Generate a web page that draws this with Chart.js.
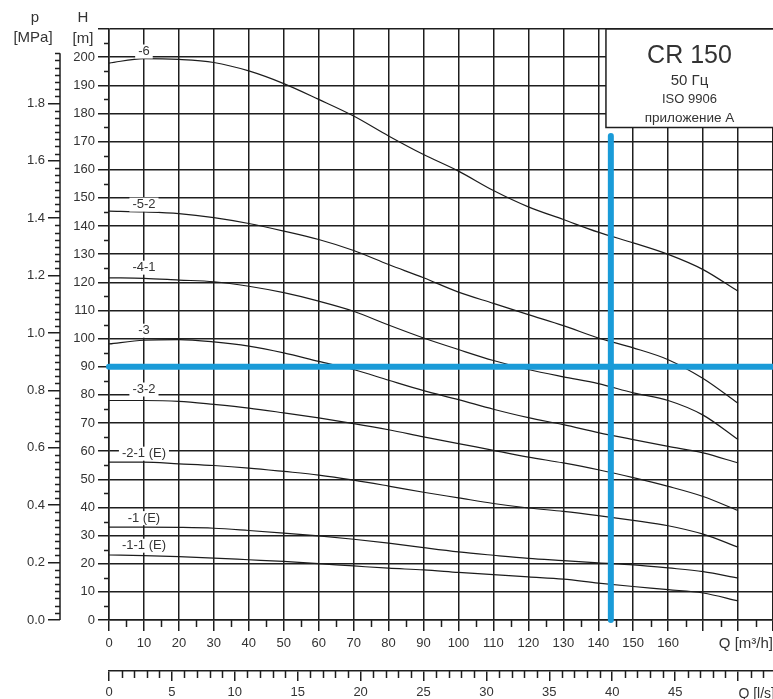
<!DOCTYPE html>
<html><head><meta charset="utf-8">
<script src="https://cdn.jsdelivr.net/npm/chart.js@4.4.1/dist/chart.umd.min.js"></script>
<style>html,body{margin:0;padding:0;background:#fff;overflow:hidden}</style>
</head><body>
<canvas id="c" width="773" height="699"></canvas>
<script>
// ---- data ----
const flowQ   = [0,10,20,30,40,50,60,70,80,90,100,110,120,130,140,150,160,170,180];
const head6   = [197.9,199.5,199.2,198.1,195.1,190.6,185.0,179.1,172.0,165.4,159.5,152.6,146.8,142.3,137.8,134.0,129.9,124.5,116.8];
const head52  = [145.3,145.0,144.4,143.0,140.9,138.2,135.2,131.3,126.3,121.6,116.5,112.5,108.5,104.6,100.2,96.7,92.5,85.8,77.0];
const head41  = [121.6,121.4,120.8,120.2,118.6,116.3,113.3,109.7,104.8,100.2,96.1,92.2,89.0,86.4,84.0,80.7,78.0,72.8,64.1];
const head3   = [98.1,99.4,99.6,98.8,97.3,94.9,91.9,89.0,85.2,81.5,78.3,74.9,71.9,69.4,66.6,64.1,61.7,59.4,55.8];
const head32  = [78.0,78.0,77.7,76.6,75.3,73.6,71.8,69.8,67.6,65.1,62.7,60.3,57.9,55.8,53.4,50.6,47.5,43.9,38.9];
const head21  = [56.1,56.1,55.5,54.9,54.0,52.8,51.5,49.7,47.6,45.4,43.4,41.4,39.8,38.6,37.1,35.4,33.5,30.5,25.9];
const head1   = [33.0,33.0,32.9,32.6,31.8,30.9,29.9,28.7,27.3,25.7,24.2,23.0,21.9,21.1,20.3,19.6,18.5,17.2,14.9];
const head11  = [23.1,22.9,22.5,22.0,21.4,20.8,20.0,19.2,18.4,17.8,16.9,16.1,15.3,14.5,13.1,11.9,10.8,9.6,6.8];
const curveNames = ['-6','-5-2','-4-1','-3','-3-2','-2-1 (E)','-1 (E)','-1-1 (E)'];
const curveHeads = [head6,head52,head41,head3,head32,head21,head1,head11];
const labelQ = 10;
const labelH = [202.0,147.6,125.2,102.8,81.9,59.1,36.2,26.4];
const dutyHead = 90;        // m
const dutyFlow = 143.6;     // m3/h
const dutyTop  = 172;       // m (top of the vertical marker)
const qMax = 190, hMax = 210;
const mPerMPa = 101.97;
const m3hPerLs = 3.6;
const qLabelMax = 160, lsLabelMax = 45, pLabelMax = 1.8, pAxisTop = 1.975;
const titleLines = ['CR 150','50 Гц','ISO 9906','приложение А'];
const boxQ = 142.2, boxH = 175;

const FONT = 'Liberation Sans, Arial, sans-serif';
const INK = '#1e1e1e';
const TXT = '#333';
const BLUE = 'rgb(26,155,216)';

const datasets = [
  {data:[{x:0,y:dutyHead},{x:qMax,y:dutyHead}], borderColor:BLUE, borderWidth:6, borderCapStyle:'round', pointRadius:0, clip:false, order:0},
  {data:[{x:dutyFlow,y:0},{x:dutyFlow,y:dutyTop}], borderColor:BLUE, borderWidth:6, borderCapStyle:'round', pointRadius:0, clip:false, order:0}
];
curveHeads.forEach((arr,i)=>{
  datasets.push({label:curveNames[i], data:flowQ.map((q,j)=>({x:q,y:arr[j]})),
    borderColor:'#1c1c1c', borderWidth:1.2, pointRadius:0, cubicInterpolationMode:'monotone', order:1});
});

const deco = {
  id:'deco',
  beforeDatasetsDraw(chart){
    const {ctx, scales:{x,y}, chartArea} = chart;
    // title box
    const l = x.getPixelForValue(boxQ), b = y.getPixelForValue(boxH), t = y.getPixelForValue(hMax);
    ctx.save();
    ctx.fillStyle = '#fff';
    ctx.fillRect(l, t, chart.width + 10 - l, b - t);
    ctx.strokeStyle = INK; ctx.lineWidth = 1.5;
    ctx.strokeRect(l, t, chart.width + 10 - l, b - t);
    const cx = (l + chartArea.right) / 2;
    ctx.fillStyle = TXT; ctx.textAlign = 'center'; ctx.textBaseline = 'middle';
    const sizes = [25, 15, 13, 13.5];
    const offs = [27, 51.5, 70, 89];
    titleLines.forEach((s,i)=>{ ctx.font = sizes[i] + 'px ' + FONT; ctx.fillText(s, cx, t + offs[i]); });
    ctx.restore();
  },
  afterDatasetsDraw(chart){
    const {ctx, scales:{x,y,p,xl}, chartArea} = chart;
    ctx.save();
    // curve labels
    ctx.font = '13px ' + FONT; ctx.textAlign = 'center'; ctx.textBaseline = 'middle';
    curveNames.forEach((n,i)=>{
      const px = x.getPixelForValue(labelQ), py = y.getPixelForValue(labelH[i]);
      const w = ctx.measureText(n).width;
      ctx.fillStyle = '#fff'; ctx.fillRect(px - w/2 - 3, py - 7, w + 6, 14);
      ctx.fillStyle = TXT; ctx.fillText(n, px, py);
    });
    // minor ticks
    ctx.strokeStyle = INK; ctx.lineWidth = 1.5;
    ctx.beginPath();
    for (let h = 5; h < hMax; h += 10) { const py = Math.round(y.getPixelForValue(h)) + 0.5; ctx.moveTo(chartArea.left - 5, py); ctx.lineTo(chartArea.left, py); }
    for (let q = 5; q < qMax; q += 10) { const px = Math.round(x.getPixelForValue(q)) + 0.5; ctx.moveTo(px, chartArea.bottom); ctx.lineTo(px, chartArea.bottom + 7); }
    for (let k = 1; k <= 52; k++) { if (k % 5 === 0) continue; const px = Math.round(xl.getPixelForValue(k)) + 0.5; ctx.moveTo(px, xl.top); ctx.lineTo(px, xl.top + 7); }
    for (let k = 1; k * 0.025 <= pAxisTop + 1e-9; k++) { if (k % 8 === 0) continue; const py = Math.round(p.getPixelForValue(k*0.025)) + 0.5; ctx.moveTo(p.right - 5, py); ctx.lineTo(p.right, py); }
    // p axis line
    ctx.moveTo(p.right, p.getPixelForValue(0)); ctx.lineTo(p.right, p.getPixelForValue(pAxisTop));
    ctx.stroke();
    // axis titles
    ctx.fillStyle = TXT; ctx.font = '15px ' + FONT; ctx.textAlign = 'center';
    ctx.fillText('p', p.right - 25, 18);
    ctx.fillText('[MPa]', p.right - 27, 38);
    ctx.fillText('H', chartArea.left - 26, 18);
    ctx.fillText('[m]', chartArea.left - 26, 39);
    ctx.textAlign = 'right';
    ctx.fillText('Q [m\u00B3/h]', chartArea.right, x.top + 23.5);
    ctx.font = '14px ' + FONT;
    ctx.fillText('Q [l/s]', chartArea.right + 2, xl.top + 23);
    ctx.restore();
  }
};

const noPadH = s => { s.paddingLeft = 0; s.paddingRight = 0; };
const noPadV = s => { s.paddingTop = 0; s.paddingBottom = 0; };
const tickFont = {family: FONT, size: 13};
new Chart(document.getElementById('c'), {
  type:'line',
  data:{datasets},
  plugins:[deco],
  options:{
    responsive:false, devicePixelRatio:1, animation:false,
    layout:{autoPadding:false, padding:{top:29, right:0, left:0, bottom:0}},
    plugins:{legend:{display:false}, tooltip:{enabled:false}},
    scales:{
      x:{type:'linear', position:'bottom', weight:0, min:0, max:qMax,
        ticks:{stepSize:10, autoSkip:false, includeBounds:false, maxRotation:0, padding:5, color:TXT, font:tickFont,
          callback:v => v <= qLabelMax ? String(v) : ''},
        grid:{color:INK, lineWidth:1.5, tickLength:11}, border:{color:INK, width:1.5},
        afterFit:s => { s.height = 51; noPadH(s); }},
      xl:{type:'linear', position:'bottom', weight:1, min:0, max:qMax/m3hPerLs,
        ticks:{stepSize:5, autoSkip:false, includeBounds:false, maxRotation:0, padding:4, color:TXT, font:tickFont,
          callback:v => v <= lsLabelMax ? String(v) : ''},
        grid:{drawOnChartArea:false, color:INK, lineWidth:1.5, tickLength:10}, border:{display:true, color:INK, width:1.5},
        afterFit:s => { s.height = 28; noPadH(s); }},
      y:{type:'linear', position:'left', weight:0, min:0, max:hMax,
        ticks:{stepSize:10, autoSkip:false, includeBounds:false, padding:3, color:TXT, font:tickFont,
          callback:v => v < hMax ? String(v) : ''},
        grid:{color:INK, lineWidth:1.5, tickLength:11}, border:{color:INK, width:1.5},
        afterFit:s => { s.width = 49; noPadV(s); }},
      p:{type:'linear', position:'left', weight:1, min:0, max:hMax/mPerMPa,
        ticks:{stepSize:0.2, autoSkip:false, includeBounds:false, padding:3, color:TXT, font:tickFont,
          callback:v => v <= pLabelMax + 1e-6 ? v.toFixed(1) : ''},
        grid:{drawOnChartArea:false, color:(c)=> (c.tick && c.tick.value > pLabelMax + 1e-6) ? 'rgba(0,0,0,0)' : INK, lineWidth:1.5, tickLength:12},
        border:{display:false},
        afterFit:s => { s.width = 60; noPadV(s); }}
    }
  }
});
</script>
</body></html>
